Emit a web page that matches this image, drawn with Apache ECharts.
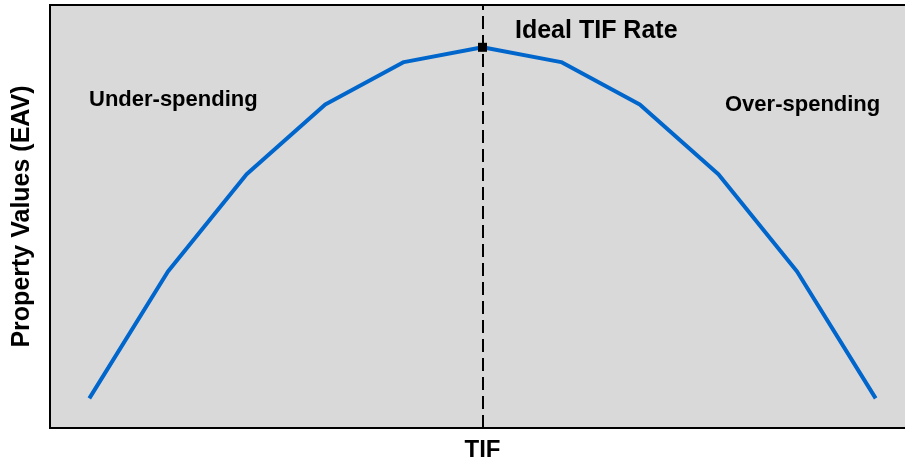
<!DOCTYPE html>
<html>
<head>
<meta charset="utf-8">
<script src="https://cdn.jsdelivr.net/npm/echarts@6/dist/echarts.min.js"></script>
<style>html,body{margin:0;padding:0;background:#fff;}#c{width:905px;height:464px;}</style>
</head>
<body>
<div id="c"></div>
<script>
var categories = ['1','2','3','4','5','6','7','8','9','10','11'];
var propertyValues = [7, 37, 60, 76.5, 86.5, 90, 86.5, 76.5, 60, 37, 7];
var idealIndex = 5;
var xTitle = 'TIF';
var yTitle = 'Property Values (EAV)';
var labelLeft = 'Under-spending';
var labelRight = 'Over-spending';
var labelIdeal = 'Ideal TIF Rate';

var font = '"Liberation Sans", Arial, sans-serif';
var chart = echarts.init(document.getElementById('c'));
var seriesData = propertyValues.map(function (v, i) {
  if (i === idealIndex) {
    return { value: v, symbol: 'rect', symbolSize: 9, itemStyle: { color: '#000' } };
  }
  return { value: v, symbol: 'none' };
});
chart.setOption({
  animation: false,
  backgroundColor: '#fff',
  grid: {
    left: 50, top: 5, width: 865, height: 423,
    containLabel: false, outerBoundsMode: 'none',
    show: true, backgroundColor: '#d9d9d9', borderColor: '#000', borderWidth: 2
  },
  xAxis: {
    type: 'category', data: categories, boundaryGap: true,
    axisLine: { show: true, lineStyle: { color: '#000', width: 2 } },
    axisTick: { show: false }, axisLabel: { show: false }, splitLine: { show: false },
    name: xTitle, nameLocation: 'middle', nameGap: 10,
    nameTextStyle: { fontFamily: font, fontWeight: 'bold', fontSize: 24, color: '#000' }
  },
  yAxis: {
    type: 'value', min: 0, max: 100,
    axisLine: { show: true, lineStyle: { color: '#000', width: 2 } },
    axisTick: { show: false }, axisLabel: { show: false }, splitLine: { show: false },
    name: yTitle, nameLocation: 'middle', nameGap: 15, nameRotate: 90,
    nameTextStyle: { fontFamily: font, fontWeight: 'bold', fontSize: 25, color: '#000' }
  },
  series: [{
    type: 'line', data: seriesData, showSymbol: true, symbol: 'none',
    lineStyle: { color: '#0066cc', width: 4 },
    itemStyle: { color: '#0066cc' },
    z: 3,
    markLine: {
      silent: true, symbol: 'none', label: { show: false },
      lineStyle: { color: '#000', width: 2, type: [13, 6] },
      data: [{ xAxis: idealIndex }]
    }
  }],
  graphic: [
    { type: 'text', x: 89, y: 100, style: { text: labelLeft, font: 'bold 22px ' + font, fill: '#000', verticalAlign: 'middle' } },
    { type: 'text', x: 725, y: 105, style: { text: labelRight, font: 'bold 22px ' + font, fill: '#000', verticalAlign: 'middle' } },
    { type: 'text', x: 515, y: 31, style: { text: labelIdeal, font: 'bold 25px ' + font, fill: '#000', verticalAlign: 'middle' } }
  ]
});
</script>
</body>
</html>
